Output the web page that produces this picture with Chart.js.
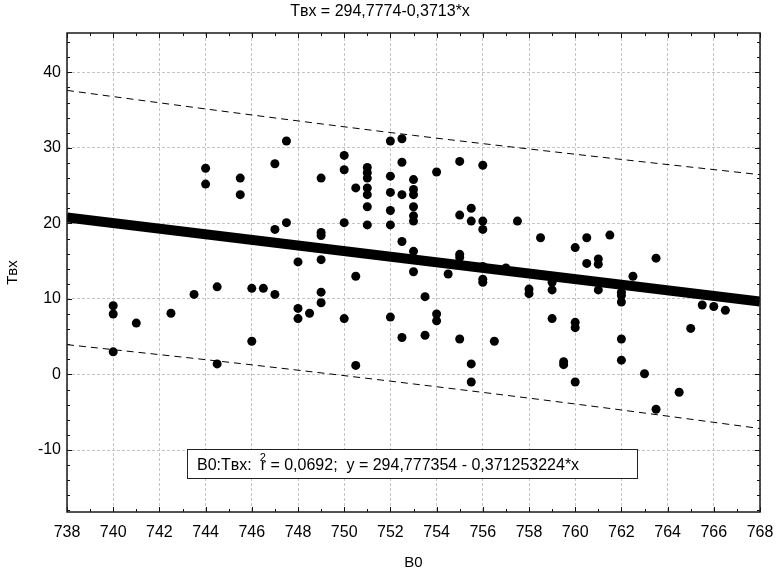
<!DOCTYPE html>
<html>
<head>
<meta charset="utf-8">
<script src="https://cdn.jsdelivr.net/npm/chart.js@4.4.1/dist/chart.umd.min.js"></script>
<style>
  html, body { margin: 0; padding: 0; background: #ffffff; }
  #wrap { width: 777px; height: 573px; }
</style>
</head>
<body>
<div id="wrap"><canvas id="c" width="777" height="573"></canvas></div>
<script>
// Axis ticks
const xTicks = [738, 740, 742, 744, 746, 748, 750, 752, 754, 756, 758, 760, 762, 764, 766, 768];
const yTicks = [-10, 0, 10, 20, 30, 40];

// Observations: B0 (x) and Tвх (y)
const b0 = [
  740, 740, 740, 741, 742.5, 743.5, 744, 744, 744.5, 744.5,
  745.5, 745.5, 746, 746, 746.5, 747, 747, 747, 747.5, 747.5,
  748, 748, 748, 748.5, 749, 749, 749, 749, 749, 749,
  750, 750, 750, 750, 750.5, 750.5, 750.5,
  751, 751, 751, 751, 751, 751, 751,
  752, 752, 752, 752, 752, 752,
  752.5, 752.5, 752.5, 752.5, 752.5,
  753, 753, 753, 753, 753, 753, 753, 753,
  753.5, 753.5, 754, 754, 754, 754.5,
  755, 755, 755, 755, 755, 755.5, 755.5, 755.5, 755.5,
  756, 756, 756, 756, 756, 756, 756.5, 757, 757.5,
  758, 758, 758.5, 759, 759, 759, 759.5, 759.5,
  760, 760, 760, 760, 760.5, 760.5, 761, 761, 761, 761.5,
  762, 762, 762, 762, 762, 762.5, 763, 763.5, 763.5,
  764.5, 765, 765.5, 766, 766.5
];
const tvx = [
  9.1, 8.0, 3.0, 6.8, 8.1, 10.6, 27.3, 25.2, 11.6, 1.4,
  26.0, 23.8, 11.4, 4.4, 11.4, 27.9, 19.2, 10.6, 30.9, 20.1,
  14.9, 8.75, 7.4, 8.1, 26.0, 18.8, 18.4, 15.2, 10.9, 9.5,
  29.0, 27.1, 20.1, 7.4, 24.7, 13.0, 1.2,
  27.4, 26.7, 26.0, 24.7, 23.8, 22.2, 19.8,
  30.9, 26.25, 24.1, 21.7, 19.8, 7.6,
  31.2, 28.1, 23.8, 17.6, 4.9,
  25.8, 24.5, 23.8, 22.2, 21.0, 20.3, 16.3, 13.6,
  10.3, 5.2, 26.8, 8.0, 7.1, 13.3,
  28.2, 21.1, 15.9, 15.5, 4.7, 22.0, 20.3, 1.4, -1.0,
  27.7, 20.3, 19.2, 14.3, 12.6, 12.2, 4.4, 14.1, 20.3,
  11.3, 10.7, 18.1, 12.2, 11.2, 7.4, 1.7, 1.3,
  16.8, 6.9, 6.2, -1.0, 18.1, 14.7, 15.3, 14.6, 11.2, 18.45,
  10.9, 10.45, 9.6, 4.7, 1.9, 13.0, 0.1, 15.4, -4.6,
  -2.35, 6.1, 9.2, 9.0, 8.5
];

// Fitted line Tвх = a + b*B0 and its prediction band
const intercept = 294.777354;
const slope = -0.371253224;
const fitX = [738, 768];
const bandX = [738, 745.5, 753, 760.5, 768];
const bandUpper = [37.6, 34.55, 31.65, 28.98, 26.45];
const bandLower = [3.95, 1.45, -1.25, -4.1, -7.15];

const FONT = "'Liberation Sans', Arial, Helvetica, sans-serif";
Chart.defaults.font.family = FONT;
Chart.defaults.color = '#000';

const points = b0.map((x, i) => ({ x, y: tvx[i] }));
const fitLine = fitX.map(x => ({ x, y: intercept + slope * x }));
const upper = bandX.map((x, i) => ({ x, y: bandUpper[i] }));
const lower = bandX.map((x, i) => ({ x, y: bandLower[i] }));

// Frame with inward major/minor ticks on all four sides
const frameTicks = {
  id: 'frameTicks',
  afterDatasetsDraw(chart) {
    const { ctx, chartArea: a, scales: { x, y } } = chart;
    ctx.save();
    ctx.strokeStyle = '#111';
    ctx.lineWidth = 1;
    ctx.beginPath();
    for (let v = x.min; v <= x.max; v += 1) {
      const len = (v % 2 === 0) ? 5 : 3;
      const px = Math.round(x.getPixelForValue(v)) + 0.5;
      ctx.moveTo(px, a.bottom); ctx.lineTo(px, a.bottom - len);
      ctx.moveTo(px, a.top); ctx.lineTo(px, a.top + len);
    }
    for (let v = -18; v <= 44; v += 2) {
      const len = (v % 10 === 0) ? 5 : 3;
      const py = Math.round(y.getPixelForValue(v)) + 0.5;
      ctx.moveTo(a.left, py); ctx.lineTo(a.left + len, py);
      ctx.moveTo(a.right, py); ctx.lineTo(a.right - len, py);
    }
    ctx.stroke();
    ctx.lineWidth = 1.5;
    ctx.strokeStyle = '#1a1a1a';
    ctx.strokeRect(a.left, a.top, a.right - a.left, a.bottom - a.top);
    ctx.restore();
  }
};

// Fit statistics box
const fitNote = {
  id: 'fitNote',
  afterDraw(chart) {
    const { ctx, chartArea: a } = chart;
    const bx = a.left + 120, by = a.bottom - 63, bw = 450, bh = 29;
    ctx.save();
    ctx.fillStyle = '#fff';
    ctx.fillRect(bx, by, bw, bh);
    ctx.strokeStyle = '#222';
    ctx.lineWidth = 1;
    ctx.strokeRect(bx + 0.5, by + 0.5, bw, bh);
    ctx.fillStyle = '#000';
    ctx.font = '16px ' + FONT;
    ctx.textBaseline = 'alphabetic';
    const base = by + 21;
    let tx = bx + 10;
    const part1 = 'B0:Tвх:  ';
    ctx.fillText(part1, tx, base);
    tx += ctx.measureText(part1).width;
    ctx.fillText('r', tx, base);
    const rW = ctx.measureText('r').width;
    ctx.font = '11px ' + FONT;
    ctx.fillText('2', tx - 1, base - 9);
    ctx.font = '16px ' + FONT;
    tx += rW;
    ctx.fillText(' = 0,0692;  y = 294,777354 - 0,371253224*x', tx, base);
    ctx.restore();
  }
};

new Chart(document.getElementById('c'), {
  type: 'scatter',
  data: {
    datasets: [
      {
        type: 'line', data: upper, borderColor: '#000', borderWidth: 1,
        borderDash: [7, 5], pointRadius: 0, cubicInterpolationMode: 'monotone', fill: false
      },
      {
        type: 'line', data: lower, borderColor: '#000', borderWidth: 1,
        borderDash: [7, 5], pointRadius: 0, cubicInterpolationMode: 'monotone', fill: false
      },
      {
        type: 'line', data: fitLine, borderColor: '#000', borderWidth: 10,
        pointRadius: 0, fill: false
      },
      {
        data: points, backgroundColor: '#000', borderWidth: 0, pointRadius: 4.5
      }
    ]
  },
  options: {
    responsive: false,
    animation: false,
    devicePixelRatio: 1,
    events: [],
    layout: { padding: { left: 0, right: 17, top: 0, bottom: 0 } },
    plugins: {
      legend: { display: false },
      tooltip: { enabled: false },
      title: {
        display: true,
        text: 'Tвх = 294,7774-0,3713*x',
        font: { size: 16, weight: 'normal' },
        color: '#000',
        padding: { top: 1.5, bottom: 12.3 }
      }
    },
    scales: {
      x: {
        type: 'linear', min: 738, max: 768,
        afterBuildTicks: s => { s.ticks = xTicks.map(v => ({ value: v })); },
        afterFit: s => { s.height = 61; s.paddingLeft = 0; s.paddingRight = 0; },
        grid: { color: '#c4c4c4', lineWidth: 1, drawTicks: false },
        border: { display: false, dash: [3, 2] },
        ticks: { font: { size: 16 }, color: '#000', padding: 11, maxRotation: 0, autoSkip: false },
        title: { display: true, text: 'B0', font: { size: 15 }, color: '#000', padding: { top: 0, bottom: 1.5 } }
      },
      y: {
        type: 'linear', min: -18.2, max: 45.2,
        afterBuildTicks: s => { s.ticks = yTicks.map(v => ({ value: v })); },
        afterFit: s => { s.width = 67; s.paddingTop = 0; s.paddingBottom = 0; },
        grid: { color: '#c4c4c4', lineWidth: 1, drawTicks: false },
        border: { display: false, dash: [3, 2] },
        ticks: { font: { size: 16 }, color: '#000', padding: 6, autoSkip: false },
        title: { display: true, text: 'Tвх', font: { size: 15 }, color: '#000', padding: { top: 4, bottom: 0 } }
      }
    }
  },
  plugins: [frameTicks, fitNote]
});
</script>
</body>
</html>
